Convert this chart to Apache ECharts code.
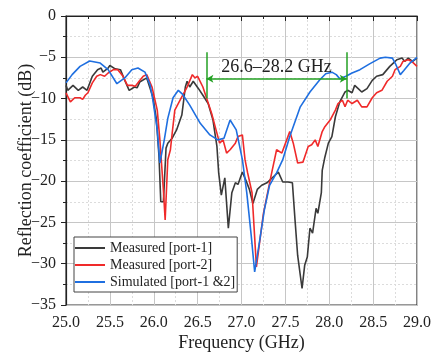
<!DOCTYPE html>
<html>
<head>
<meta charset="utf-8">
<script src="https://cdn.jsdelivr.net/npm/echarts@6/dist/echarts.min.js"></script>
<style>
  html, body { margin: 0; padding: 0; background: #fff; }
  #chart { width: 431px; height: 352px; }
</style>
</head>
<body>
<div id="chart"></div>
<script>
// Reflection coefficient of the two-port antenna, 25–29 GHz
const seriesNames = ['Measured [port-1]', 'Measured [port-2]', 'Simulated [port-1 &2]'];

// [frequency (GHz), S (dB)]
const measuredPort1 = [
  [25.00, -8.4], [25.02, -9.0], [25.08, -8.4], [25.14, -9.0], [25.19, -8.6], [25.24, -9.0],
  [25.30, -7.3], [25.36, -6.5], [25.40, -6.3], [25.42, -6.8], [25.48, -6.3], [25.50, -6.0],
  [25.56, -6.4], [25.62, -6.5], [25.67, -7.8], [25.72, -9.0], [25.78, -8.6], [25.81, -8.7],
  [25.84, -8.0], [25.92, -7.5], [25.99, -9.8], [26.03, -12.5], [26.06, -17.0], [26.08, -22.5],
  [26.11, -22.5], [26.14, -16.0], [26.16, -15.4], [26.21, -14.8], [26.26, -13.8], [26.32, -12.0],
  [26.36, -8.6], [26.38, -7.9], [26.41, -8.6], [26.45, -7.9], [26.51, -8.8], [26.56, -9.6],
  [26.62, -10.6], [26.675, -12.6], [26.70, -14.4], [26.72, -15.8], [26.74, -19.0], [26.77, -21.7],
  [26.81, -19.6], [26.85, -25.7], [26.89, -21.4], [26.93, -20.2], [26.96, -20.4], [27.01, -18.9],
  [27.05, -19.9], [27.09, -21.0], [27.13, -22.7], [27.18, -21.0], [27.23, -20.5], [27.29, -20.2],
  [27.36, -19.5], [27.42, -18.9], [27.47, -20.1], [27.53, -20.1], [27.58, -20.2], [27.61, -24.7],
  [27.64, -29.0], [27.69, -33.0], [27.72, -30.2], [27.75, -29.2], [27.78, -25.7], [27.81, -26.3],
  [27.85, -23.3], [27.87, -23.9], [27.91, -21.4], [27.92, -18.7], [27.95, -17.1], [27.99, -15.4],
  [28.03, -14.6], [28.07, -12.2], [28.12, -10.4], [28.18, -9.2], [28.21, -9.0], [28.26, -9.3],
  [28.29, -8.4], [28.33, -8.8], [28.37, -9.2], [28.43, -8.8], [28.49, -7.8], [28.54, -7.3],
  [28.61, -7.1], [28.69, -6.1], [28.73, -5.7], [28.77, -5.3], [28.83, -5.1], [28.86, -5.5],
  [28.90, -5.1], [28.95, -5.5], [29.00, -5.1]
];

const measuredPort2 = [
  [25.00, -9.3], [25.05, -10.4], [25.10, -9.9], [25.16, -9.9], [25.19, -10.1], [25.22, -9.6],
  [25.25, -9.3], [25.30, -8.1], [25.35, -7.3], [25.39, -7.1], [25.44, -7.3], [25.48, -6.9],
  [25.54, -6.5], [25.59, -6.5], [25.65, -7.3], [25.70, -8.4], [25.75, -8.4], [25.79, -8.5],
  [25.84, -7.8], [25.88, -7.3], [25.92, -7.1], [25.98, -8.6], [26.04, -11.4], [26.07, -15.0],
  [26.11, -21.1], [26.13, -24.7], [26.16, -17.4], [26.19, -16.2], [26.21, -14.2], [26.24, -11.4],
  [26.30, -10.2], [26.38, -8.6], [26.44, -7.1], [26.47, -7.5], [26.50, -7.3], [26.56, -8.6],
  [26.61, -10.2], [26.66, -11.8], [26.70, -13.4], [26.75, -15.4], [26.79, -15.0], [26.83, -16.6],
  [26.87, -16.2], [26.93, -15.4], [26.96, -14.6], [27.01, -14.4], [27.04, -17.4], [27.07, -19.0],
  [27.12, -21.4], [27.17, -30.4], [27.25, -23.9], [27.32, -20.2], [27.35, -18.7], [27.40, -16.2],
  [27.46, -16.6], [27.55, -14.0], [27.59, -15.4], [27.64, -17.8], [27.70, -17.7], [27.76, -15.8],
  [27.80, -15.6], [27.84, -15.0], [27.87, -15.8], [27.92, -14.0], [27.95, -13.4], [28.01, -12.6],
  [28.07, -11.4], [28.10, -10.6], [28.15, -10.2], [28.18, -11.0], [28.21, -10.2], [28.26, -10.6],
  [28.32, -10.2], [28.37, -11.0], [28.43, -11.0], [28.49, -9.9], [28.54, -9.3], [28.60, -9.0],
  [28.66, -7.9], [28.72, -7.3], [28.75, -6.5], [28.81, -6.1], [28.84, -5.5], [28.90, -5.3],
  [28.94, -5.5], [29.00, -6.1]
];

const simulated = [
  [25.00, -8.1], [25.07, -7.1], [25.16, -6.1], [25.27, -5.45], [25.39, -5.7], [25.48, -6.5],
  [25.58, -8.2], [25.67, -7.5], [25.75, -6.5], [25.82, -6.3], [25.90, -6.8], [25.96, -8.4],
  [25.99, -10.2], [26.04, -13.8], [26.07, -17.8], [26.12, -15.0], [26.16, -12.4], [26.22, -9.9],
  [26.28, -9.0], [26.33, -9.5], [26.41, -10.8], [26.53, -13.0], [26.64, -14.4], [26.73, -15.0],
  [26.80, -14.8], [26.87, -12.6], [26.94, -13.8], [27.01, -17.4], [27.06, -21.4], [27.11, -26.5],
  [27.15, -31.0], [27.20, -27.7], [27.26, -23.5], [27.32, -20.5], [27.40, -19.0], [27.47, -17.4],
  [27.55, -14.6], [27.67, -11.0], [27.78, -9.2], [27.89, -7.75], [27.96, -7.0], [28.03, -6.8],
  [28.08, -7.1], [28.12, -7.6], [28.19, -7.3], [28.26, -6.9], [28.35, -6.5], [28.46, -5.8],
  [28.58, -5.1], [28.64, -5.0], [28.72, -5.1], [28.76, -5.9], [28.81, -7.1], [28.85, -6.6],
  [28.92, -5.7], [29.00, -5.0]
];

// Bandwidth annotation
const bandLow = 26.6;
const bandHigh = 28.2;
const bandLevel = -7.6;
const bandTop = -4.4;
const bandBottom = -10.0;
const bandLabel = bandLow.toFixed(1) + '\u2013' + bandHigh.toFixed(1) + ' GHz';

const xTicks = { min: 25, max: 29, step: 0.5 };
const yTicks = { min: -35, max: 0, step: 5 };

const serif = '"Liberation Serif", "DejaVu Serif", serif';
const textColor = '#222';
const colors = ['#3a3a3a', '#f02a2a', '#1f6fe0'];
const green = '#23a023';

const chart = echarts.init(document.getElementById('chart'), null, { renderer: 'canvas' });

function lineSeries(name, data, color) {
  return {
    name: name,
    type: 'line',
    data: data,
    symbol: 'none',
    smooth: false,
    lineStyle: { color: color, width: 1.6 },
    itemStyle: { color: color },
    z: 3
  };
}

const axisCommon = {
  axisLine: { show: true, lineStyle: { color: '#222', width: 1.2 } },
  axisTick: { show: true, length: 5, lineStyle: { color: '#222' } },
  minorTick: { show: true, splitNumber: 2, length: 3, lineStyle: { color: '#222' } },
  splitLine: { show: true, lineStyle: { color: '#c6c6c6', width: 1 } },
  minorSplitLine: { show: true, lineStyle: { color: '#dcdcdc', width: 1, type: [2, 2] } },
  nameLocation: 'middle',
  nameMoveOverlap: false,
  nameTextStyle: { fontFamily: serif, fontSize: 18, color: textColor }
};

chart.setOption({
  animation: false,
  backgroundColor: '#fff',
  grid: {
    left: 66, right: 14, top: 16, bottom: 47,
    outerBoundsMode: 'none',
    containLabel: false,
    show: true, borderColor: '#333', borderWidth: 1.2, backgroundColor: 'transparent'
  },
  xAxis: Object.assign({}, axisCommon, {
    type: 'value',
    min: xTicks.min, max: xTicks.max, interval: xTicks.step,
    name: 'Frequency (GHz)',
    nameGap: 29,
    axisLabel: {
      fontFamily: serif, fontSize: 16, color: textColor, margin: 10,
      formatter: v => v.toFixed(1)
    }
  }),
  yAxis: Object.assign({}, axisCommon, {
    type: 'value',
    min: yTicks.min, max: yTicks.max, interval: yTicks.step,
    name: 'Reflection coefficient (dB)',
    nameGap: 31,
    axisLabel: {
      fontFamily: serif, fontSize: 16, color: textColor, margin: 10,
      formatter: v => (v < 0 ? '\u2212' + Math.abs(v) : String(v))
    }
  }),
  legend: {
    orient: 'vertical',
    left: 74, top: 237,
    itemWidth: 30, itemHeight: 2, itemGap: 3,
    icon: 'rect',
    padding: [4, 2, 3, 1],
    borderColor: '#444', borderWidth: 1, borderRadius: 0,
    backgroundColor: '#fff',
    textStyle: { fontFamily: serif, fontSize: 14, color: textColor, padding: [0, 0, 0, 0] },
    data: seriesNames
  },
  series: [
    lineSeries(seriesNames[0], measuredPort1, colors[0]),
    lineSeries(seriesNames[1], measuredPort2, colors[1]),
    lineSeries(seriesNames[2], simulated, colors[2]),
    {
      name: 'band',
      type: 'line',
      data: [],
      silent: true,
      z: 4,
      markLine: {
        silent: true,
        animation: false,
        symbol: ['none', 'none'],
        lineStyle: { color: green, width: 1.5, type: 'solid' },
        label: { show: false },
        data: [
          [
            { coord: [bandLow, bandLevel], symbol: 'arrow', symbolSize: [6, 7] },
            {
              coord: [bandHigh, bandLevel], symbol: 'arrow', symbolSize: [6, 7],
              label: {
                show: true, position: 'middle', distance: 2,
                formatter: bandLabel,
                fontFamily: serif, fontSize: 18, color: textColor
              }
            }
          ],
          [{ coord: [bandLow, bandTop] }, { coord: [bandLow, bandBottom] }],
          [{ coord: [bandHigh, bandTop] }, { coord: [bandHigh, bandBottom] }]
        ]
      }
    }
  ]
});
</script>
</body>
</html>
